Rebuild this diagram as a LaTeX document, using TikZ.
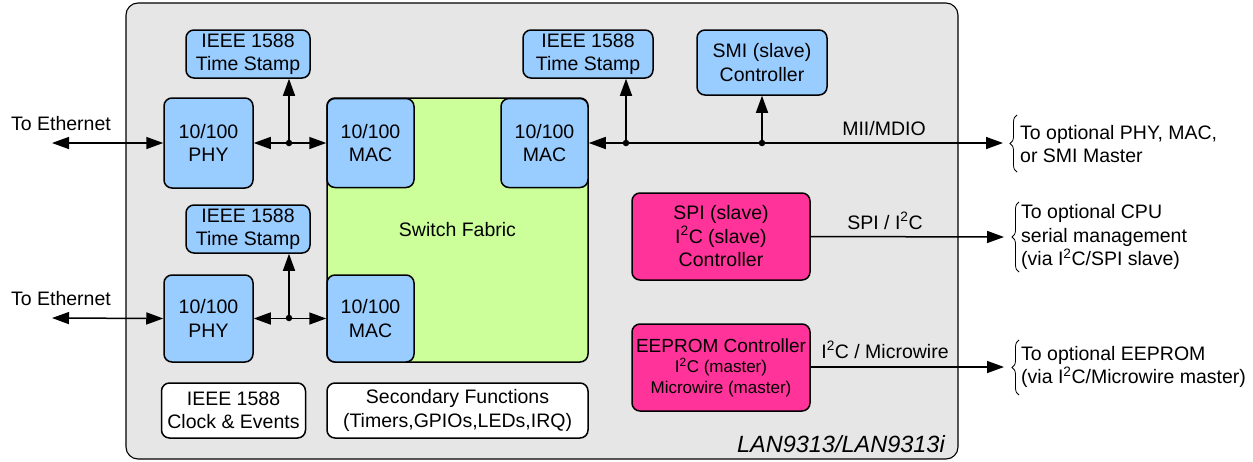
\documentclass[tikz,border=0pt]{standalone}
\usepackage{fontspec}
\setmainfont{Liberation Sans}
\usetikzlibrary{arrows.meta,decorations.pathreplacing}
\definecolor{chipgray}{HTML}{E6E6E6}
\definecolor{blkblue}{HTML}{99CCFF}
\definecolor{blkgreen}{HTML}{CCFF99}
\definecolor{blkpink}{HTML}{FF3399}
\begin{document}
\begin{tikzpicture}[x=1pt,y=-1pt,
  every node/.style={font=\fontsize{19.5}{23.5}\selectfont},
  box/.style={draw, line width=1.5pt, rounded corners=8pt, align=center, inner sep=0pt},
  bluebox/.style={box, fill=blkblue},
  pinkbox/.style={box, fill=blkpink},
  whitebox/.style={box, fill=white},
  conn/.style={line width=1.5pt},
  tip/.style={conn, -{Triangle[length=17pt,width=12pt]}},
  both/.style={conn, {Triangle[length=17pt,width=12pt]}-{Triangle[length=17pt,width=12pt]}},
  dot/.style={circle, fill, inner sep=0pt, minimum size=6.5pt},
  lbl/.style={anchor=base, inner sep=0pt},
  side/.style={anchor=west, align=left, inner sep=0pt},
  brc/.style={decorate, decoration={brace, amplitude=7pt}, line width=0.8pt}
]
\useasboundingbox (0,0) rectangle (1253,461);
% chip outline
\node[draw, line width=1.1pt, rounded corners=12pt, fill=chipgray, minimum width=832pt, minimum height=456pt, inner sep=0pt] (chip) at (542,231) {};
% switch fabric and MACs
\node[box, fill=blkgreen, minimum width=261pt, minimum height=264pt] (sf) at (457.5,230) {Switch Fabric};
\node[bluebox, minimum width=87pt, minimum height=89pt] (mac1) at (370.5,143) {10/100\\MAC};
\node[bluebox, minimum width=87pt, minimum height=89pt] (mac2) at (544.5,143) {10/100\\MAC};
\node[bluebox, minimum width=87pt, minimum height=87pt] (mac3) at (370.5,318.5) {10/100\\MAC};
% PHYs
\node[bluebox, minimum width=89pt, minimum height=90pt] (phy1) at (208.5,143) {10/100\\PHY};
\node[bluebox, minimum width=89pt, minimum height=87pt] (phy2) at (208.5,318.5) {10/100\\PHY};
% time stamps
\node[bluebox, minimum width=124pt, minimum height=48pt] (ts1) at (248,54) {IEEE 1588\\Time Stamp};
\node[bluebox, minimum width=124pt, minimum height=48pt] (ts3) at (248,229) {IEEE 1588\\Time Stamp};
\node[bluebox, minimum width=130pt, minimum height=48pt] (ts2) at (588,54) {IEEE 1588\\Time Stamp};
\node[bluebox, minimum width=130pt, minimum height=65pt] (smi) at (762,62.5) {SMI (slave)\\Controller};
% pink controllers
\node[pinkbox, minimum width=178pt, minimum height=87pt] (spi) at (721,236.5) {SPI (slave)\\I\textsuperscript{2}C (slave)\\Controller};
\node[pinkbox, minimum width=178pt, minimum height=87pt, font=\fontsize{17}{20.5}\selectfont] (eep) at (721,367.5) {{\fontsize{19}{21}\selectfont EEPROM Controller}\\{I\textsuperscript{2}C (master)}\\{Microwire (master)}};
% white boxes
\node[whitebox, minimum width=144pt, minimum height=55pt] (clk) at (233.5,410.5) {IEEE 1588\\Clock \& Events};
\node[whitebox, minimum width=261pt, minimum height=55pt] (sec) at (457.5,410.5) {Secondary Functions\\(Timers,GPIOs,LEDs,IRQ)};
\node[anchor=base east, inner sep=0pt, font=\fontsize{23.5}{27}\selectfont\itshape] (chipname) at (945,452) {LAN9313/LAN9313i};
% coordinates
\coordinate (eth1) at (52,143);
\coordinate (eth2) at (52,318);
\coordinate (j1) at (289,143);
\coordinate (j2) at (289,318);
\coordinate (d1) at (626,143);
\coordinate (d2) at (762,143);
\coordinate (bus) at (1003,143);
\coordinate (spiend) at (1004,237);
\coordinate (eepend) at (1004,367);
% Ethernet connectors
\draw[both] (eth1) -- (phy1.west);
\draw[both] (eth2) -- (phy2.west);
\node[lbl] (ethl1) at (61,130) {To Ethernet};
\node[lbl] (ethl2) at (61,305) {To Ethernet};
\draw[both] (phy1.east) -- (mac1.west);
\draw[both] (phy2.east) -- (phy2.east -| mac3.west);
\draw[tip] (j1) -- (j1 |- ts1.south);
\draw[tip] (j2) -- (j2 |- ts3.south);
\node[dot] (dj1) at (j1) {};
\node[dot] (dj2) at (j2) {};
% MII bus
\draw[both] (mac2.east) -- (bus);
\draw[tip] (d1) -- (d1 |- ts2.south);
\draw[tip] (d2) -- (smi.south);
\node[dot] (dd1) at (d1) {};
\node[dot] (dd2) at (d2) {};
\node[lbl] (mii) at (884,135) {MII/MDIO};
% serial connectors
\draw[tip] (spi.east) -- (spiend);
\node[lbl] (spil) at (885,229) {SPI / I\textsuperscript{2}C};
\draw[tip] (eep.east |- eepend) -- (eepend);
\node[lbl] (eepl) at (885,358) {I\textsuperscript{2}C / Microwire};
% braces and external texts
\draw[brc] (1017,172) -- (1017,115);
\draw[brc] (1019,272) -- (1019,202);
\draw[brc] (1019,395) -- (1019,340);
\node[side] (t1) at (1020,144) {To optional PHY, MAC,\\or SMI Master};
\node[side] (t2) at (1021,237) {To optional CPU\\serial management\\(via I\textsuperscript{2}C/SPI slave)};
\node[side] (t3) at (1021,367) {To optional EEPROM\\(via I\textsuperscript{2}C/Microwire master)};
\end{tikzpicture}
\end{document}
